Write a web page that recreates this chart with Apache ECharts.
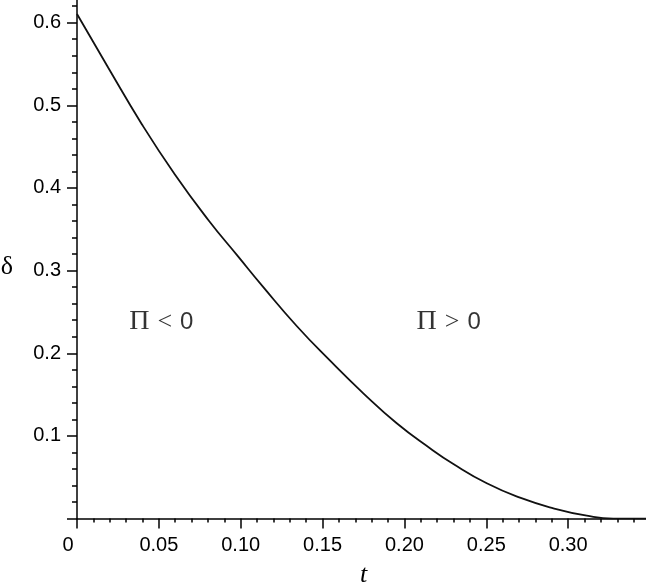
<!DOCTYPE html>
<html>
<head>
<meta charset="utf-8">
<script src="https://cdn.jsdelivr.net/npm/echarts@6/dist/echarts.min.js"></script>
<style>html,body{margin:0;padding:0;background:#fff}#c{width:646px;height:585px}</style>
</head>
<body>
<div id="c"></div>
<script>
// curve values
const tValues = [0, 0.0191, 0.0395, 0.0599, 0.0802, 0.0985, 0.1138, 0.1342, 0.1546, 0.1749, 0.1953, 0.2156, 0.2299, 0.2503, 0.2706, 0.2910, 0.3114, 0.3276, 0.3476];
const deltaValues = [0.6104, 0.5455, 0.4775, 0.4160, 0.3613, 0.3169, 0.2800, 0.2330, 0.1910, 0.1516, 0.1153, 0.0851, 0.0660, 0.0427, 0.0253, 0.0125, 0.0035, 0, 0];
// region annotations
const noteT = [0.0515, 0.227];
const noteDelta = [0.238, 0.238];
const noteText = ['<', '>'];
const xTickLabels = ['0', '0.05', '0.10', '0.15', '0.20', '0.25', '0.30'];
const yTickLabels = ['0.1', '0.2', '0.3', '0.4', '0.5', '0.6'];

const curve = tValues.map((t, i) => [t, deltaValues[i]]);
const notes = noteT.map((t, i) => ({ value: [t, noteDelta[i]], txt: noteText[i] }));

const chart = echarts.init(document.getElementById('c'), null, { renderer: 'canvas' });
chart.setOption({
  animation: false,
  backgroundColor: '#fff',
  grid: { left: 77, right: -4, top: -10.4, bottom: 66.4, outerBoundsMode: 'none', containLabel: false },
  xAxis: {
    type: 'value', min: 0, max: 0.35, interval: 0.05,
    name: 't', nameLocation: 'middle', nameGap: 44,
    nameTextStyle: { fontFamily: 'Liberation Serif', fontStyle: 'italic', fontSize: 26, color: '#000' },
    axisLine: { show: true, onZero: false, lineStyle: { color: '#000', width: 1.5 } },
    axisTick: { show: true, length: 10, lineStyle: { color: '#000', width: 1.5 } },
    minorTick: { show: true, splitNumber: 5, length: 4, lineStyle: { color: '#000', width: 1.5 } },
    splitLine: { show: false },
    axisLabel: {
      margin: 17, fontFamily: 'Liberation Sans', fontSize: 20, color: '#000',
      formatter: function (v) {
        const i = Math.round(v / 0.05);
        if (i >= xTickLabels.length || Math.abs(v - i * 0.05) > 1e-9) return '';
        return i === 0 ? '{z|' + xTickLabels[0] + '}' : xTickLabels[i];
      },
      rich: { z: { fontFamily: 'Liberation Sans', fontSize: 20, color: '#000', padding: [0, 18, 0, 0] } }
    }
  },
  yAxis: {
    type: 'value', min: 0, max: 0.64, interval: 0.1,
    name: 'δ', nameLocation: 'middle', nameGap: 64, nameRotate: 0,
    nameTextStyle: { fontFamily: 'Liberation Serif', fontSize: 26, color: '#000', verticalAlign: 'top' },
    axisLine: { show: true, onZero: false, lineStyle: { color: '#000', width: 1.5 } },
    axisTick: { show: true, length: 10, lineStyle: { color: '#000', width: 1.5 } },
    minorTick: { show: true, splitNumber: 5, length: 5, lineStyle: { color: '#000', width: 1.5 } },
    splitLine: { show: false },
    axisLabel: {
      margin: 16, fontFamily: 'Liberation Sans', fontSize: 20, color: '#000',
      formatter: function (v) {
        const i = Math.round(v / 0.1);
        if (i < 1 || i > yTickLabels.length || Math.abs(v - i * 0.1) > 1e-9) return '';
        return yTickLabels[i - 1];
      }
    }
  },
  series: [
    {
      type: 'line', data: curve, smooth: 0.5, showSymbol: false, symbol: 'none',
      lineStyle: { color: '#111', width: 1.8 }, clip: true, z: 3
    },
    {
      type: 'scatter', data: notes, symbolSize: 0, silent: true,
      label: {
        show: true, position: 'inside',
        formatter: function (p) { return '{p|Π}{s|' + p.data.txt + '}{z|0}'; },
        rich: {
          p: { fontFamily: 'Liberation Serif', fontSize: 28, color: '#000' },
          s: { fontFamily: 'Liberation Serif', fontSize: 26, color: '#000', padding: [0, 8, 0, 8] },
          z: { fontFamily: 'Liberation Sans', fontSize: 24, color: '#000' }
        }
      }
    }
  ]
});
</script>
</body>
</html>
